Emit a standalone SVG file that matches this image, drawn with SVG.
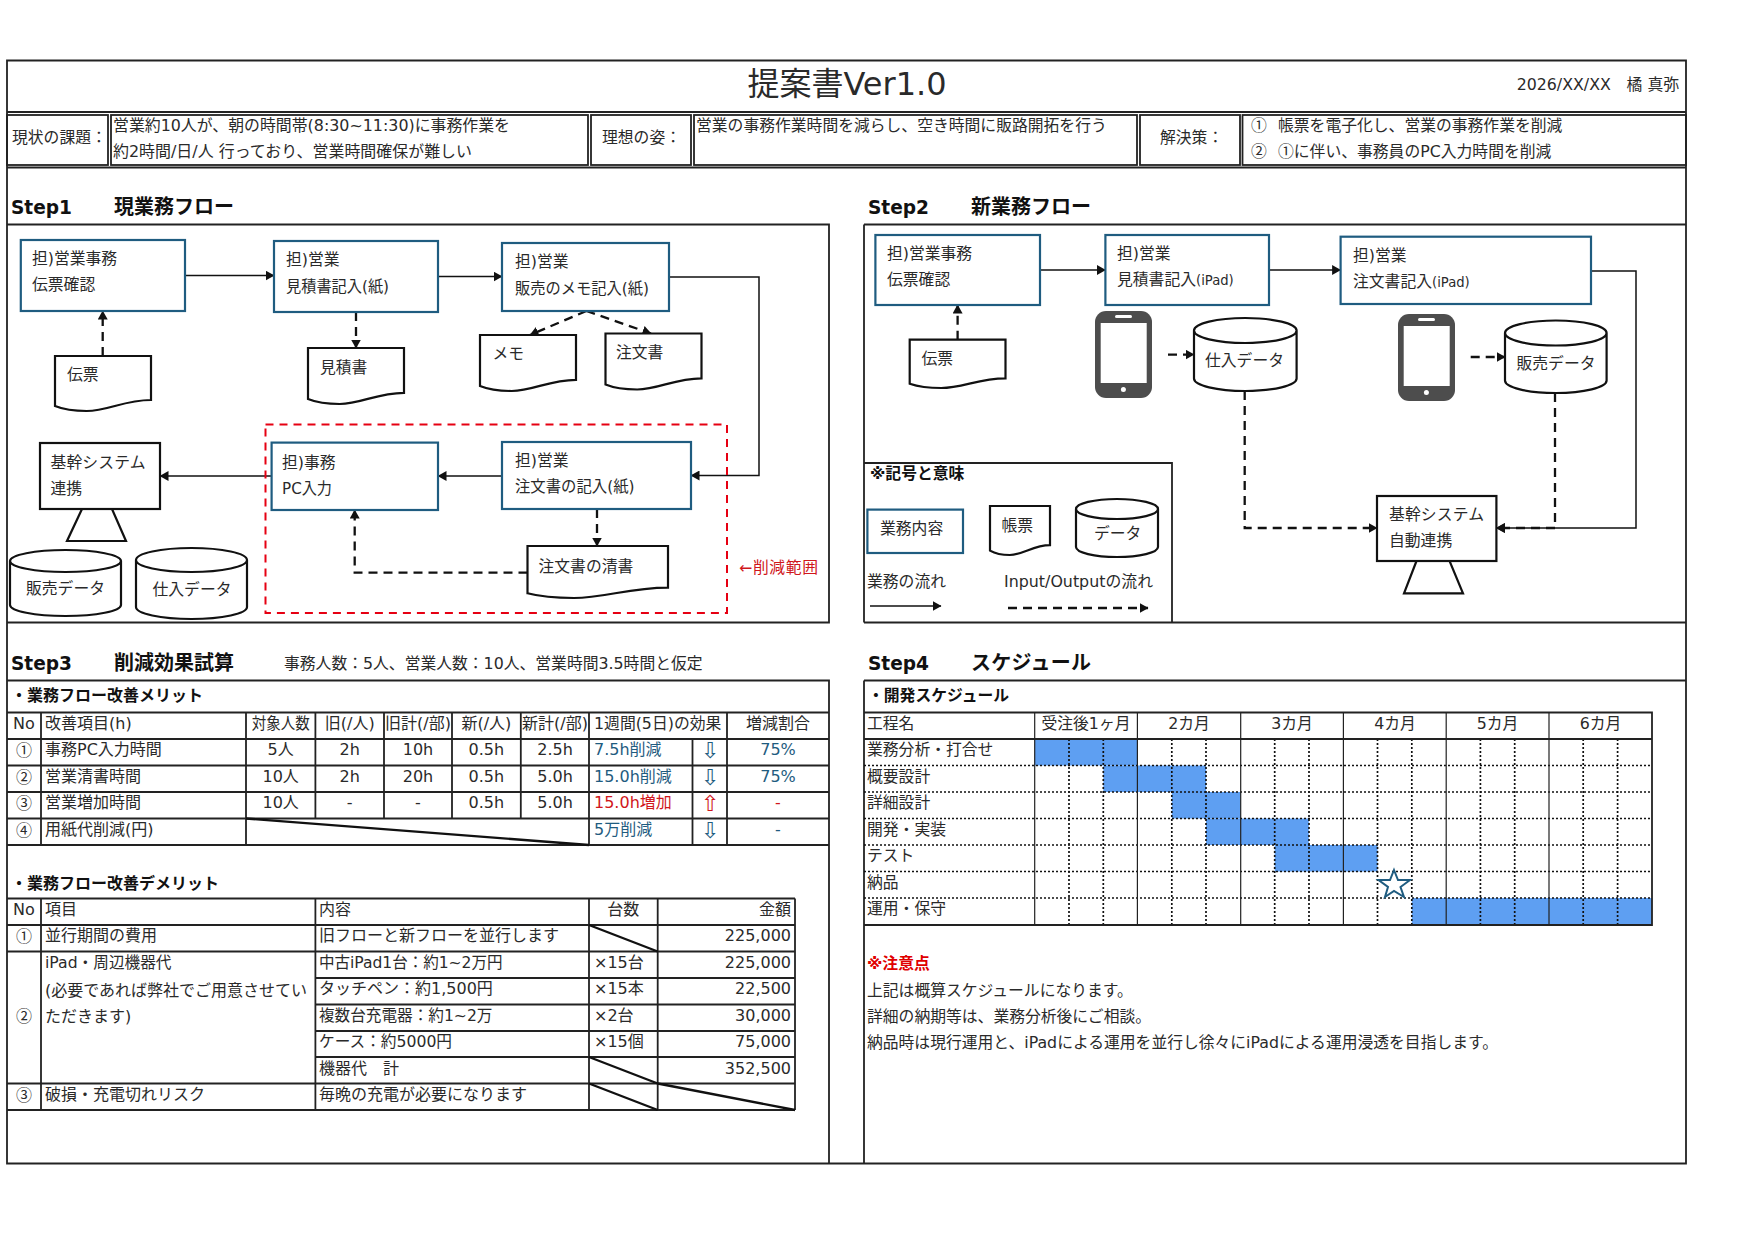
<svg xmlns="http://www.w3.org/2000/svg" width="1755" height="1241" viewBox="0 0 1755 1241">
<style>
text{font-family:"DejaVu Sans","Noto Sans CJK JP",sans-serif;font-size:15.8px;fill:#2a2a2a}
#merit-table text,#demerit-table text{font-size:16px}
.n{font-family:"Noto Sans CJK JP",sans-serif}
.h{font-size:20px;font-weight:700;fill:#111}
.s{font-weight:700;fill:#111}
.c{text-anchor:middle}
.r{text-anchor:end}
#merit-table .blue,.blue{fill:#1f5c80}
.red{fill:#d0161b}
#merit-table .ar{font-size:22px}
.ip{font-size:13.2px}
.ln{fill:none;stroke:#222;stroke-width:1.8}
.thin{fill:none;stroke:#222;stroke-width:1.2}
.diag{fill:none;stroke:#111;stroke-width:2.4}
.dot{fill:none;stroke:#111;stroke-width:1.7;stroke-dasharray:2 2}
.task{fill:#fff;stroke:#1f5c80;stroke-width:2.2}
.blk{fill:#fff;stroke:#111;stroke-width:2.2}
.flow{fill:none;stroke:#111;stroke-width:1.5}
.io{fill:none;stroke:#111;stroke-width:2.3;stroke-dasharray:9 6}
.bar{fill:#5e9ff2}
.ph{fill:#4d4d4d}
</style>
<defs>
<marker id="a" markerUnits="userSpaceOnUse" markerWidth="9" markerHeight="10" refX="8.5" refY="5" orient="auto"><path d="M0,0L9,5L0,10Z" fill="#111"/></marker>
</defs>
<rect width="1755" height="1241" fill="#fff"/>

<g id="frame" class="ln">
<path d="M7,60.5H1686V1163.5H7Z M7,112H1686 M7,167.5H1686"/>
<path d="M7,224.5H829V622.5H7 M864,224.5H1686 M864,622.5H1686 M864,224.5V622.5"/>
<path d="M7,680.5H829V1163.5 M864,680.5H1686 M864,680.5V1163.5"/>
<rect x="7" y="115" width="101" height="50"/>
<rect x="111" y="115" width="477" height="50"/>
<rect x="591" y="115" width="100" height="50"/>
<rect x="694" y="115" width="443" height="50"/>
<rect x="1140" y="115" width="100" height="50"/>
<rect x="1242.5" y="115" width="443.5" height="50"/>
</g>

<g id="header">
<text x="847" y="95" class="c" style="font-size:32px">提案書Ver1.0</text>
<text x="1679" y="90" class="r">2026/XX/XX　橘 真弥</text>
<text x="12" y="143">現状の課題：</text>
<text x="113" y="131" textLength="397" lengthAdjust="spacingAndGlyphs">営業約10人が、朝の時間帯(8:30~11:30)に事務作業を</text>
<text x="113" y="157" textLength="359" lengthAdjust="spacingAndGlyphs">約2時間/日/人 行っており、営業時間確保が難しい</text>
<text x="602" y="143">理想の姿：</text>
<text x="696" y="131">営業の事務作業時間を減らし、空き時間に販路開拓を行う</text>
<text x="1160" y="143">解決策：</text>
<text x="1251" y="131" class="n">①</text><text x="1278" y="131">帳票を電子化し、営業の事務作業を削減</text>
<text x="1251" y="157" class="n">②</text><text x="1278" y="157"><tspan class="n">①</tspan>に伴い、事務員のPC入力時間を削減</text>
<text x="11" y="214" class="h" textLength="61" lengthAdjust="spacingAndGlyphs">Step1</text><text x="114" y="214" class="h">現業務フロー</text>
<text x="868" y="214" class="h" textLength="61" lengthAdjust="spacingAndGlyphs">Step2</text><text x="971" y="214" class="h">新業務フロー</text>
<text x="11" y="670" class="h" textLength="61" lengthAdjust="spacingAndGlyphs">Step3</text><text x="114" y="670" class="h">削減効果試算</text>
<text x="284" y="669">事務人数：5人、営業人数：10人、営業時間3.5時間と仮定</text>
<text x="868" y="670" class="h" textLength="61" lengthAdjust="spacingAndGlyphs">Step4</text><text x="971" y="670" class="h" textLength="120">スケジュール</text>
</g>

<g id="step1-connectors">
<path class="flow" marker-end="url(#a)" d="M185,275.5H274"/>
<path class="flow" marker-end="url(#a)" d="M438,276.5H502"/>
<path class="flow" marker-end="url(#a)" d="M669,277H759V475.5H691"/>
<path class="flow" marker-end="url(#a)" d="M502,476H438"/>
<path class="flow" marker-end="url(#a)" d="M271.6,476H160"/>
<path class="io" marker-end="url(#a)" d="M356,312V348"/>
<path class="io" marker-end="url(#a)" d="M102.7,356V311"/>
<path class="io" marker-end="url(#a)" d="M586.4,311L530,335"/>
<path class="io" marker-end="url(#a)" d="M586.4,311L651,333.5"/>
<path class="io" marker-end="url(#a)" d="M597,509V546"/>
<path class="io" marker-end="url(#a)" d="M527.5,572.7H354.7V510"/>
</g>
<g id="s1-reduce"><rect x="265.5" y="424.6" width="461.5" height="188.4" fill="none" stroke="#e60012" stroke-width="2" stroke-dasharray="8 6"/><text x="739" y="573" class="red" textLength="79">←削減範囲</text></g>

<g id="s1-denpyo-check"><rect class="task" x="20.8" y="240" width="164.2" height="71"/><text x="32" y="263.8">担)営業事務</text><text x="32" y="290.3">伝票確認</text></g>
<g id="s1-mitsumori-entry"><rect class="task" x="274" y="241" width="164" height="71"/><text x="286" y="265.3">担)営業</text><text x="286" y="291.8" textLength="103" lengthAdjust="spacingAndGlyphs">見積書記入(紙)</text></g>
<g id="s1-memo-entry"><rect class="task" x="502" y="243" width="167" height="68"/><text x="515" y="267.3">担)営業</text><text x="515" y="293.8" textLength="134" lengthAdjust="spacingAndGlyphs">販売のメモ記入(紙)</text></g>
<g id="s1-denpyo"><path class="blk" d="M55,356h96v44c-26.9,0,-43.2,11,-64.3,11c-12.5,0,-22.1,-1.1,-31.7,-5z"/><text x="67" y="380">伝票</text></g>
<g id="s1-mitsumori"><path class="blk" d="M308,348h96v44.8c-26.9,0,-43.2,11.2,-64.3,11.2c-12.5,0,-22.1,-1.1,-31.7,-5z"/><text x="320" y="373">見積書</text></g>
<g id="s1-memo"><path class="blk" d="M480,335h96v44.8c-26.9,0,-43.2,11.2,-64.3,11.2c-12.5,0,-22.1,-1.1,-31.7,-5z"/><text x="492.5" y="359">メモ</text></g>
<g id="s1-chumon"><path class="blk" d="M605.5,333.5h96v44.8c-26.9,0,-43.2,11.2,-64.3,11.2c-12.5,0,-22.1,-1.1,-31.7,-5z"/><text x="616" y="358">注文書</text></g>
<g id="s1-core"><path class="blk" d="M82,509L67,541H126L112,509Z"/><rect class="blk" x="40" y="443" width="120" height="66"/><text x="50.5" y="468" textLength="95">基幹システム</text><text x="50.5" y="493.5">連携</text></g>
<g id="s1-sales-data"><path class="blk" d="M10,561a55.5,11,0,0,1,111,0V605a55.5,11,0,0,1,-111,0ZM10,561a55.5,11,0,0,0,111,0"/><text x="26" y="594">販売データ</text></g>
<g id="s1-purchase-data"><path class="blk" d="M136,560a55.5,12,0,0,1,111,0V607a55.5,12,0,0,1,-111,0ZM136,560a55.5,12,0,0,0,111,0"/><text x="152.5" y="595">仕入データ</text></g>
<g id="s1-pc-entry"><rect class="task" x="271.6" y="442.6" width="166.4" height="67.4"/><text x="282" y="467.5">担)事務</text><text x="282" y="493.5" textLength="50" lengthAdjust="spacingAndGlyphs">PC入力</text></g>
<g id="s1-order-entry"><rect class="task" x="502" y="442" width="189" height="67"/><text x="515" y="466">担)営業</text><text x="515" y="492" textLength="119.5" lengthAdjust="spacingAndGlyphs">注文書の記入(紙)</text></g>
<g id="s1-clean"><path class="blk" d="M527.5,546h140.5v41.6c-39.3,0,-63.2,10.4,-94.1,10.4c-18.3,0,-32.4,-1,-46.4,-4.7z"/><text x="538.5" y="572">注文書の清書</text></g>

<g id="step2-connectors">
<path class="flow" marker-end="url(#a)" d="M1040,270H1105.4"/>
<path class="flow" marker-end="url(#a)" d="M1269,270H1340.6"/>
<path class="flow" marker-end="url(#a)" d="M1591,271H1636V528H1496.4"/>
<path class="io" marker-end="url(#a)" d="M957.6,339.7V305"/>
<path class="io" marker-end="url(#a)" d="M1168,354.6H1194"/>
<path class="io" marker-end="url(#a)" d="M1470.7,357H1505"/>
<path class="io" marker-end="url(#a)" d="M1244.7,391V528H1377"/>
<path class="io" marker-end="url(#a)" d="M1555,393V528H1496.4"/>
</g>
<g id="s2-denpyo-check"><rect class="task" x="875.4" y="235" width="164.6" height="70"/><text x="887" y="259">担)営業事務</text><text x="887" y="285">伝票確認</text></g>
<g id="s2-mitsumori"><rect class="task" x="1105.4" y="235" width="163.6" height="70"/><text x="1117" y="259">担)営業</text><text x="1117" y="285">見積書記入<tspan class="ip">(iPad)</tspan></text></g>
<g id="s2-order"><rect class="task" x="1340.6" y="236.7" width="250.4" height="67.3"/><text x="1353" y="261">担)営業</text><text x="1353" y="287">注文書記入<tspan class="ip">(iPad)</tspan></text></g>
<g id="s2-denpyo"><path class="blk" d="M909.7,339.7h95.8v38.6c-26.8,0,-43.1,9.7,-64.2,9.7c-12.5,0,-22,-1,-31.6,-4.3z"/><text x="921.5" y="363.5">伝票</text></g>
<g id="s2-phone1"><rect class="ph" x="1095" y="311" width="57" height="87" rx="11"/><rect x="1100.7" y="323" width="46" height="60" fill="#fff"/><rect x="1115" y="315" width="17" height="3" rx="1.5" fill="#fff"/><circle cx="1123.4" cy="389.5" r="2.5" fill="#fff"/></g>
<g id="s2-phone2"><rect class="ph" x="1398" y="314" width="57" height="87" rx="11"/><rect x="1403.7" y="326" width="46" height="60" fill="#fff"/><rect x="1418" y="318" width="17" height="3" rx="1.5" fill="#fff"/><circle cx="1426.4" cy="392.5" r="2.5" fill="#fff"/></g>
<g id="s2-purchase-data"><path class="blk" d="M1194,330.5a51.3,12.5,0,0,1,102.6,0V378.5a51.3,12.5,0,0,1,-102.6,0ZM1194,330.5a51.3,12.5,0,0,0,102.6,0"/><text x="1205" y="366">仕入データ</text></g>
<g id="s2-sales-data"><path class="blk" d="M1505,333a50.8,12.5,0,0,1,101.6,0V380.5a50.8,12.5,0,0,1,-101.6,0ZM1505,333a50.8,12.5,0,0,0,101.6,0"/><text x="1516.5" y="368.5">販売データ</text></g>
<g id="s2-core"><path class="blk" d="M1416.5,561L1404,593.4H1463L1449.6,561Z"/><rect class="blk" x="1377" y="496" width="119.4" height="65"/><text x="1389" y="519.5" textLength="95">基幹システム</text><text x="1389" y="546">自動連携</text></g>

<g id="legend">
<path class="ln" d="M864,463H1172V622"/>
<text x="870" y="479" class="s">※記号と意味</text>
<rect class="task" x="867.4" y="509.6" width="95.6" height="43.4"/><text x="880" y="533.5">業務内容</text>
<path class="blk" d="M990,506h60v39.2c-16.8,0,-27,9.8,-40.2,9.8c-7.8,0,-13.8,-1,-19.8,-4.4z"/><text x="1001.5" y="531">帳票</text>
<path class="blk" d="M1076,509a41,10,0,0,1,82,0V547a41,10,0,0,1,-82,0ZM1076,509a41,10,0,0,0,82,0"/><text x="1094" y="538.5">データ</text>
<text x="867" y="587">業務の流れ</text><text x="1004" y="587" textLength="149" lengthAdjust="spacingAndGlyphs">Input/Outputの流れ</text>
<path class="flow" marker-end="url(#a)" d="M870,606H941"/>
<path class="io" marker-end="url(#a)" d="M1008,608H1148"/>
</g>

<g id="merit-table">
<text x="11" y="701" class="s">・業務フロー改善メリット</text>
<path class="ln" d="M7,712.5H829M7,739H829M7,765.5H829M7,792H829M7,818.5H829M7,845H829M41,712.5V845M246,712.5V845M315.4,712.5V818.5M384,712.5V818.5M452,712.5V818.5M520.8,712.5V818.5M589,712.5V845M692.5,739V845M727,712.5V845"/>
<path class="diag" d="M246,818.5L589,845"/>
<text x="24" y="729" class="c">No</text><text x="45" y="729">改善項目(h)</text><text x="280.7" y="729" class="c" textLength="58" lengthAdjust="spacingAndGlyphs">対象人数</text><text x="349.7" y="729" class="c">旧(/人)</text><text x="418" y="729" class="c">旧計(/部)</text><text x="486.4" y="729" class="c">新(/人)</text><text x="555" y="729" class="c">新計(/部)</text><text x="594" y="729" textLength="127.4" lengthAdjust="spacingAndGlyphs">1週間(5日)の効果</text><text x="778" y="729" class="c">増減割合</text>
<text x="24" y="756" class="c n">①</text><text x="45" y="755">事務PC入力時間</text><text x="280.7" y="755" class="c">5人</text><text x="349.7" y="755" class="c">2h</text><text x="418" y="755" class="c">10h</text><text x="486.4" y="755" class="c">0.5h</text><text x="555" y="755" class="c">2.5h</text><text x="594" y="755" class="blue">7.5h削減</text><text x="710" y="758" class="c blue ar">⇩</text><text x="778" y="755" class="c blue">75%</text>
<text x="24" y="782.5" class="c n">②</text><text x="45" y="781.5">営業清書時間</text><text x="280.7" y="781.5" class="c">10人</text><text x="349.7" y="781.5" class="c">2h</text><text x="418" y="781.5" class="c">20h</text><text x="486.4" y="781.5" class="c">0.5h</text><text x="555" y="781.5" class="c">5.0h</text><text x="594" y="781.5" class="blue">15.0h削減</text><text x="710" y="784.5" class="c blue ar">⇩</text><text x="778" y="781.5" class="c blue">75%</text>
<text x="24" y="809" class="c n">③</text><text x="45" y="808">営業増加時間</text><text x="280.7" y="808" class="c">10人</text><text x="349.7" y="808" class="c">-</text><text x="418" y="808" class="c">-</text><text x="486.4" y="808" class="c">0.5h</text><text x="555" y="808" class="c">5.0h</text><text x="594" y="808" class="red">15.0h増加</text><text x="710" y="811" class="c red ar">⇧</text><text x="778" y="808" class="c red">-</text>
<text x="24" y="835.5" class="c n">④</text><text x="45" y="834.5">用紙代削減(円)</text><text x="594" y="834.5" class="blue">5万削減</text><text x="710" y="837.5" class="c blue ar">⇩</text><text x="778" y="834.5" class="c blue">-</text>
</g>

<g id="demerit-table">
<text x="11" y="889" class="s">・業務フロー改善デメリット</text>
<path class="ln" d="M7,898.5H795M7,925H795M7,951.5H795M315.4,978H795M315.4,1004.5H795M315.4,1031H795M315.4,1057H795M7,1083.5H795M7,1110H795M41,898.5V1110M315.4,898.5V1110M589,898.5V1110M657.7,898.5V1110M795,898.5V1110"/>
<path class="diag" d="M589,925L657.7,951.5M589,1057L657.7,1083.5M589,1083.5L657.7,1110M657.7,1083.5L795,1110"/>
<text x="24" y="915" class="c">No</text><text x="45" y="915">項目</text><text x="319" y="915">内容</text><text x="623.3" y="915" class="c">台数</text><text x="791" y="915" class="r">金額</text>
<text x="24" y="942" class="c n">①</text><text x="45" y="941">並行期間の費用</text><text x="319" y="941">旧フローと新フローを並行します</text><text x="791" y="941" class="r">225,000</text>
<text x="24" y="1021.5" class="c n">②</text><text x="45" y="968" textLength="126.5" lengthAdjust="spacingAndGlyphs">iPad・周辺機器代</text><text x="45" y="995.5">(必要であれば弊社でご用意させてい</text><text x="45" y="1021.5">ただきます)</text>
<text x="319" y="968" textLength="183.5" lengthAdjust="spacingAndGlyphs">中古iPad1台：約1~2万円</text><text x="594" y="968">×15台</text><text x="791" y="968" class="r">225,000</text>
<text x="319" y="994">タッチペン：約1,500円</text><text x="594" y="994">×15本</text><text x="791" y="994" class="r">22,500</text>
<text x="319" y="1021" textLength="173.5" lengthAdjust="spacingAndGlyphs">複数台充電器：約1~2万</text><text x="594" y="1021">×2台</text><text x="791" y="1021" class="r">30,000</text>
<text x="319" y="1047" textLength="133" lengthAdjust="spacingAndGlyphs">ケース：約5000円</text><text x="594" y="1047">×15個</text><text x="791" y="1047" class="r">75,000</text>
<text x="319" y="1074">機器代　計</text><text x="791" y="1074" class="r">352,500</text>
<text x="24" y="1101" class="c n">③</text><text x="45" y="1100">破損・充電切れリスク</text><text x="319" y="1100">毎晩の充電が必要になります</text>
</g>

<g id="gantt">
<text x="868" y="701" class="s">・開発スケジュール</text>
<rect class="bar" x="1034.7" y="739" width="102.8" height="26.5"/>
<rect class="bar" x="1103.3" y="765.5" width="102.8" height="26.5"/>
<rect class="bar" x="1171.8" y="792" width="68.9" height="26.5"/>
<rect class="bar" x="1206" y="818.5" width="102.8" height="26.5"/>
<rect class="bar" x="1274.7" y="845" width="102.8" height="26.5"/>
<rect class="bar" x="1411.8" y="898" width="240.2" height="26.8"/>
<path class="dot" d="M864,765.5H1652M864,792H1652M864,818.5H1652M864,845H1652M864,871.5H1652M864,898H1652"/>
<path class="dot" d="M1069,739V925M1103.3,739V925M1171.8,739V925M1206,739V925M1274.7,739V925M1309,739V925M1377.5,739V925M1411.8,739V925M1480.4,739V925M1514.7,739V925M1583.2,739V925M1617.6,739V925"/>
<path class="ln" d="M864,712.5H1652V925H864M864,739H1652"/>
<path class="thin" d="M1034.7,712.5V925M1137.4,712.5V925M1240.7,712.5V925M1343.4,712.5V925M1446.2,712.5V925M1549,712.5V925"/>
<polygon points="1394,870 1398,880 1410,880 1400.5,887 1404,897 1394,891 1385,897 1388,887 1378.5,880 1390,880" fill="#fff" stroke="#1f5c80" stroke-width="2"/>
<text x="867" y="729">工程名</text><text x="1086" y="729" class="c">受注後1ヶ月</text><text x="1189" y="729" class="c">2カ月</text><text x="1292" y="729" class="c">3カ月</text><text x="1395" y="729" class="c">4カ月</text><text x="1497.6" y="729" class="c">5カ月</text><text x="1600.5" y="729" class="c">6カ月</text>
<text x="867" y="755">業務分析・打合せ</text><text x="867" y="781.5">概要設計</text><text x="867" y="808">詳細設計</text><text x="867" y="834.5">開発・実装</text><text x="867" y="861">テスト</text><text x="867" y="887.5">納品</text><text x="867" y="914">運用・保守</text>
</g>

<g id="notes">
<text x="867" y="969" class="s" style="fill:#e00000">※注意点</text>
<text x="867" y="995.5">上記は概算スケジュールになります。</text>
<text x="867" y="1021.5">詳細の納期等は、業務分析後にご相談。</text>
<text x="867" y="1048" textLength="631" lengthAdjust="spacingAndGlyphs">納品時は現行運用と、iPadによる運用を並行し徐々にiPadによる運用浸透を目指します。</text>
</g>
</svg>
